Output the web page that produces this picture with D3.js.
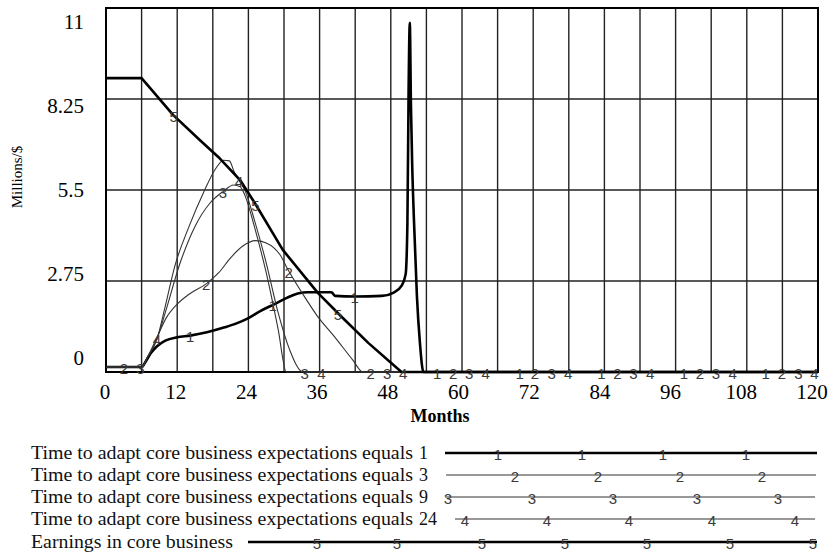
<!DOCTYPE html>
<html>
<head>
<meta charset="utf-8">
<script src="https://cdn.jsdelivr.net/npm/d3@7"></script>
<style>
  body { margin: 0; background: #fff; }
  svg { display: block; }
</style>
</head>
<body>
<svg width="835" height="555"></svg>
<script>
// axis ticks
const monthTicks = [0, 12, 24, 36, 48, 60, 72, 84, 96, 108, 120];
const valueTicks = [0, 2.75, 5.5, 8.25, 11];

// [month, millions $]
const series1 = [[0,0.15],[6,0.15],[6.8,0.35],[7.6,0.58],[8.6,0.78],[10,0.95],[12,1.05],[14.2,1.1],[17,1.2],[20,1.35],[22,1.47],[24,1.63],[26,1.84],[28.5,2.06],[30.7,2.26],[32.5,2.38],[34,2.41],[38,2.41],[38.6,2.3],[42,2.28],[46.5,2.3],[48.5,2.4],[49.8,2.6],[50.5,2.95],[50.8,4.5],[51,8.5],[51.2,10.55],[51.4,8.0],[51.6,6.3],[51.9,4.6],[52.4,2.3],[52.9,0.9],[53.5,0],[120,0]];
const series2 = [[0,0.15],[6,0.15],[7,0.45],[8.6,1.05],[10.2,1.65],[12,2.05],[14,2.35],[17,2.68],[19,3.0],[21,3.45],[23,3.8],[25.2,3.97],[27,3.9],[29.3,3.55],[30.8,3.05],[33.8,2.18],[35.5,1.72],[38.5,1.07],[41.6,0.36],[43.3,0],[120,0]];
const series3 = [[0,0.15],[6,0.15],[7,0.45],[8.6,1.0],[10,1.8],[12.5,3.3],[15,4.4],[17.5,5.1],[19.7,5.45],[21.5,5.65],[22.6,5.6],[23.5,5.3],[25,4.4],[27,3.0],[29,1.3],[30.4,0],[120,0]];
const series4 = [[0,0.15],[6,0.15],[7,0.45],[8.6,1.0],[10,2.0],[11.6,3.2],[14,4.4],[16.5,5.45],[18.5,6.15],[19.8,6.4],[20.8,6.38],[21.6,6.05],[22.4,5.8],[23.5,5.45],[25,4.6],[27,3.3],[29,1.8],[31,0.65],[33.2,0],[120,0]];
const series5 = [[0,8.88],[6,8.88],[11.3,7.77],[15.8,7.01],[19.2,6.45],[22.6,5.8],[25.1,5.1],[29.8,3.69],[35.7,2.39],[39.7,1.67],[44.2,0.88],[49.8,0],[120,0]];

// months where the number markers sit on each line
const marks1 = [14.2, 28.1, 41.9, 55.8, 69.7, 83.5, 97.4, 111.2];
const marks2 = [3.0, 16.9, 30.8, 44.6, 58.5, 72.3, 86.2, 100.1, 113.9];
const marks3 = [5.8, 19.7, 33.5, 47.4, 61.2, 75.1, 88.9, 102.8, 116.7];
const marks4 = [8.6, 22.4, 36.3, 50.1, 64.0, 77.9, 91.7, 105.6, 119.4];
const marks5 = [11.4, 25.2, 39.1];

const legendNames = [
  "Time to adapt core business expectations equals",
  "Time to adapt core business expectations equals",
  "Time to adapt core business expectations equals",
  "Time to adapt core business expectations equals",
  "Earnings in core business"
];
const legendValues = ["1", "3", "9", "24", ""];

const svg = d3.select("svg");
const serif = "'Liberation Serif', 'Times New Roman', serif";
const sans = "'Liberation Sans', Arial, sans-serif";

const x = d3.scaleLinear().domain([0, 120]).range([106, 818]);
const y = d3.scaleLinear().domain([0, 11]).range([372, 8]);
// the label positions drift a little from the gridlines in the original
const xLab = d3.scaleLinear().domain([0, 120]).range([105, 812]);
const yLab = d3.scaleLinear().domain([0, 11]).range([358, 21.5]);

// grid
const grid = svg.append("g");
grid.selectAll("line.v")
  .data(d3.range(6, 120, 6))
  .join("line")
    .attr("x1", d => x(d)).attr("x2", d => x(d))
    .attr("y1", y(11)).attr("y2", y(0))
    .attr("stroke", "#222").attr("stroke-width", 1.4);
grid.selectAll("line.h")
  .data(valueTicks.slice(1, -1))
  .join("line")
    .attr("x1", x(0)).attr("x2", x(120))
    .attr("y1", d => y(d)).attr("y2", d => y(d))
    .attr("stroke", "#222").attr("stroke-width", 1.4);

// frame
svg.append("rect")
  .attr("x", x(0)).attr("y", y(11))
  .attr("width", x(120) - x(0)).attr("height", y(0) - y(11))
  .attr("fill", "none").attr("stroke", "#000").attr("stroke-width", 2);

// tick labels
svg.append("g").selectAll("text")
  .data(valueTicks)
  .join("text")
    .attr("x", 84).attr("y", d => yLab(d))
    .attr("text-anchor", "end").attr("dominant-baseline", "central")
    .style("font-family", serif).style("font-size", "21px")
    .text(d => d);
svg.append("g").selectAll("text")
  .data(monthTicks)
  .join("text")
    .attr("x", d => xLab(d)).attr("y", 392)
    .attr("text-anchor", "middle").attr("dominant-baseline", "central")
    .style("font-family", serif).style("font-size", "21px")
    .text(d => d);

svg.append("text")
  .attr("x", 440).attr("y", 416)
  .attr("text-anchor", "middle").attr("dominant-baseline", "central")
  .style("font-family", serif).style("font-size", "18px")
  .style("font-weight", "bold")
  .text("Months");
svg.append("text")
  .attr("transform", "translate(17,177) rotate(-90)")
  .attr("text-anchor", "middle").attr("dominant-baseline", "central")
  .style("font-family", serif).style("font-size", "15px")
  .text("Millions/$");

// lines
const smooth = d3.line()
  .x(d => x(d[0])).y(d => y(d[1]))
  .curve(d3.curveMonotoneX);
const straight = d3.line()
  .x(d => x(d[0])).y(d => y(d[1]));

const allSeries = [
  {data: series1, marks: marks1, label: "1", width: 2.6, color: "#000", line: smooth},
  {data: series2, marks: marks2, label: "2", width: 1.1, color: "#333", line: smooth},
  {data: series3, marks: marks3, label: "3", width: 1.1, color: "#333", line: smooth},
  {data: series4, marks: marks4, label: "4", width: 1.1, color: "#333", line: smooth},
  {data: series5, marks: marks5, label: "5", width: 2.6, color: "#000", line: straight}
];

const plot = svg.append("g");
allSeries.forEach(s => {
  plot.append("path")
    .attr("d", s.line(s.data))
    .attr("fill", "none")
    .attr("stroke", s.color)
    .attr("stroke-width", s.width)
    .attr("stroke-linejoin", "round");
});

// value on a series at a given month
const bis = d3.bisector(d => d[0]).left;
function valueAt(data, t) {
  const i = Math.max(1, Math.min(data.length - 1, bis(data, t)));
  const a = data[i - 1], b = data[i];
  return a[1] + (b[1] - a[1]) * (t - a[0]) / (b[0] - a[0]);
}

allSeries.forEach(s => {
  plot.append("g").selectAll("text")
    .data(s.marks)
    .join("text")
      .attr("x", t => x(t))
      .attr("y", t => y(valueAt(s.data, t)) + 1)
      .attr("text-anchor", "middle").attr("dominant-baseline", "central")
      .style("font-family", sans).style("font-size", "15px")
      .attr("fill", "#3a3a3a")
      .text(s.label);
});

// legend
const legendY = [453, 475, 497, 519, 542];
const legendLine = [[445, 817], [446, 816], [445, 815], [455, 815], [248, 817]];
const legendMarks = [
  [498, 582, 663, 746],
  [515, 598, 680, 762],
  [448, 532, 613, 697, 778],
  [465, 547, 629, 712, 795],
  [317, 397, 482, 565, 647, 730, 813]
];

const legend = svg.append("g");
legendNames.forEach((name, i) => {
  const s = allSeries[i];
  legend.append("text")
    .attr("x", 31).attr("y", legendY[i])
    .attr("dominant-baseline", "central")
    .attr("textLength", i < 4 ? 382 : 202)
    .attr("lengthAdjust", "spacingAndGlyphs")
    .style("font-family", serif).style("font-size", "18px")
    .attr("fill", "#111")
    .text(name);
  if (legendValues[i]) {
    legend.append("text")
      .attr("x", 419).attr("y", legendY[i])
      .attr("dominant-baseline", "central")
      .style("font-family", serif).style("font-size", "18px")
      .attr("fill", "#111")
      .text(legendValues[i]);
  }
  legend.append("line")
    .attr("x1", legendLine[i][0]).attr("x2", legendLine[i][1])
    .attr("y1", legendY[i]).attr("y2", legendY[i])
    .attr("stroke", s.color).attr("stroke-width", s.width);
  legend.append("g").selectAll("text")
    .data(legendMarks[i])
    .join("text")
      .attr("x", d => d).attr("y", legendY[i] + 1)
      .attr("text-anchor", "middle").attr("dominant-baseline", "central")
      .style("font-family", sans).style("font-size", "15px")
      .attr("fill", "#3a3a3a")
      .text(s.label);
});
</script>
</body>
</html>
